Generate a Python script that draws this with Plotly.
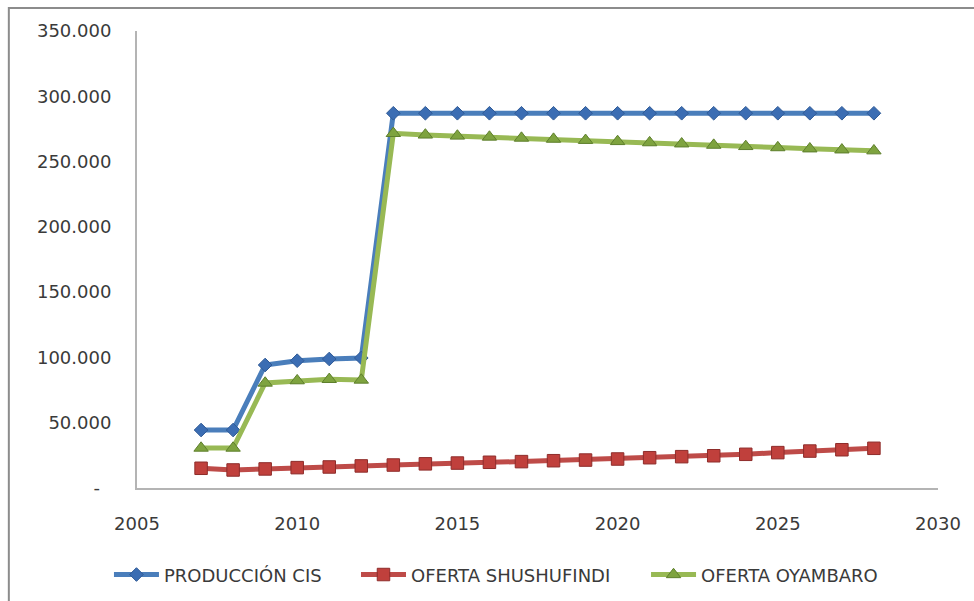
import plotly.graph_objects as go

# Annual figures (barrels per day)
years = list(range(2007, 2029))

produccion_cis = [44400, 44400, 94200, 97500, 98800, 99600,
                  287000, 287000, 287000, 287000, 287000, 287000, 287000, 287000,
                  287000, 287000, 287000, 287000, 287000, 287000, 287000, 287000]

oferta_shushufindi = [15100, 13800, 14600, 15600, 16100, 16900,
                      17600, 18500, 19100, 19700, 20200, 20900, 21400, 22200,
                      23200, 24000, 24700, 25800, 27100, 28300, 29300, 30400]

oferta_oyambaro = [30600, 30600, 80400, 82200, 83200, 82700,
                   271600, 270400, 269600, 268800, 268000, 267200, 266300, 265400,
                   264500, 263600, 262600, 261600, 260700, 259800, 259000, 258300]

series_names = ["PRODUCCIÓN CIS", "OFERTA SHUSHUFINDI", "OFERTA OYAMBARO"]

# accounting-style labels: zero shown as a padded dash
y_tick_vals = [0, 50000, 100000, 150000, 200000, 250000, 300000, 350000]
y_tick_text = ["-\u00a0\u00a0", "50.000", "100.000", "150.000", "200.000", "250.000", "300.000", "350.000"]
x_tick_vals = [2005, 2010, 2015, 2020, 2025, 2030]

FONT = "DejaVu Sans"
TEXT_COLOR = "#3A3A3A"
AXIS_COLOR = "#B4B4B4"
FS = 18

fig = go.Figure()

fig.add_trace(go.Scatter(
    x=years, y=produccion_cis, name=series_names[0], mode="lines+markers",
    line=dict(color="#4A7EBB", width=5), legend="legend",
    marker=dict(symbol="diamond", size=10.5, color="#3B6DB3",
                line=dict(color="#2F5A96", width=1)),
))
fig.add_trace(go.Scatter(
    x=years, y=oferta_shushufindi, name=series_names[1], mode="lines+markers",
    line=dict(color="#BE4B48", width=5), legend="legend2",
    marker=dict(symbol="square", size=12.5, color="#C0403C",
                line=dict(color="#8E2C2A", width=1)),
))
fig.add_trace(go.Scatter(
    x=years, y=oferta_oyambaro, name=series_names[2], mode="lines+markers",
    line=dict(color="#98B954", width=5), legend="legend3",
    marker=dict(symbol="triangle-up", size=12.5, color="#7EA33F",
                line=dict(color="#5E7F2C", width=1)),
))

# Outer chart frame (top and left edges visible)
fig.add_shape(type="rect", xref="paper", yref="paper",
              x0=-0.16, x1=1.05, y0=-0.26, y1=1.0505,
              line=dict(color="#8C8C8C", width=2), layer="below")

legend_style = dict(orientation="h", xanchor="left", y=-0.19, yanchor="middle",
                    font=dict(family=FONT, size=FS, color=TEXT_COLOR),
                    itemwidth=45, bgcolor="rgba(0,0,0,0)")

fig.update_layout(
    width=974, height=601,
    margin=dict(l=137, r=36, t=31, b=113, autoexpand=False),
    paper_bgcolor="white", plot_bgcolor="white",
    font=dict(family=FONT, size=FS, color=TEXT_COLOR),
    showlegend=True,
    legend=dict(x=-0.035, **legend_style),
    legend2=dict(x=0.2734, **legend_style),
    legend3=dict(x=0.6355, **legend_style),
    xaxis=dict(range=[2005, 2030], tickvals=x_tick_vals, showgrid=False, zeroline=False,
               showline=True, linecolor=AXIS_COLOR, linewidth=2, ticks="",
               ticklabelstandoff=18, tickfont=dict(family=FONT, size=FS, color=TEXT_COLOR)),
    yaxis=dict(range=[0, 350000], tickvals=y_tick_vals, ticktext=y_tick_text,
               showgrid=False, zeroline=False, showline=True, linecolor=AXIS_COLOR,
               linewidth=2, ticks="", ticklabelstandoff=20,
               tickfont=dict(family=FONT, size=FS, color=TEXT_COLOR)),
)

fig.write_html("out.html")
